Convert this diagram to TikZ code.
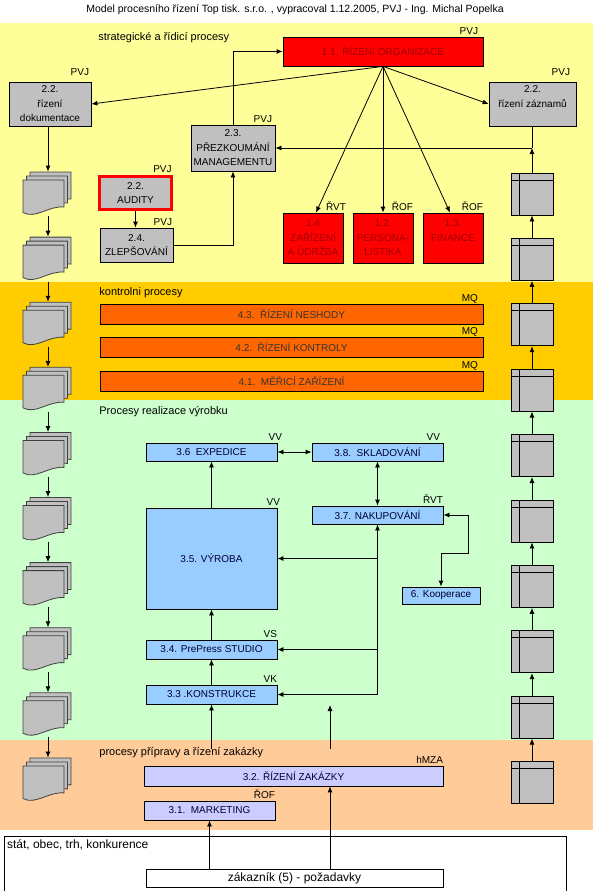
\documentclass[tikz,border=0pt]{standalone}
\usepackage{fontspec}
\setmainfont{Liberation Sans}
\usetikzlibrary{arrows.meta}

\definecolor{bandyellow}{HTML}{FFFF99}
\definecolor{bandgold}{HTML}{FFCC00}
\definecolor{bandgreen}{HTML}{CCFFCC}
\definecolor{bandpeach}{HTML}{FFCC99}
\definecolor{boxgray}{HTML}{C0C0C0}
\definecolor{boxred}{HTML}{FF0000}
\definecolor{textred}{HTML}{A00000}
\definecolor{barorange}{HTML}{FF6600}
\definecolor{boxblue}{HTML}{99CCFF}
\definecolor{boxlila}{HTML}{CCCCFF}
\definecolor{textblue}{HTML}{000033}

\begin{document}
\begin{tikzpicture}[x=1pt,y=-1pt,line width=0.8pt,>={Latex[length=6pt,width=5pt]},
font=\fontsize{10}{14.5}\selectfont,
graybox/.style={draw,fill=boxgray,inner sep=0pt,align=center},
redbox/.style={draw,fill=boxred,text=textred,inner sep=0pt,align=center,minimum width=60,minimum height=50},
ctrlbar/.style={draw,fill=barorange,text=black!80,inner sep=0pt,minimum width=383,minimum height=20},
realbox/.style={draw,fill=boxblue,text=textblue,inner sep=0pt,minimum width=131,minimum height=19},
zakbox/.style={draw,fill=boxlila,text=textblue,inner sep=0pt,minimum height=20},
owner/.style={anchor=base east,inner sep=0pt,yshift=2.5pt},
section/.style={anchor=west,inner sep=0pt,font=\fontsize{11}{13}\selectfont},
recbox/.style={draw,fill=boxgray,inner sep=0pt,minimum width=42,minimum height=42,
  path picture={
    \draw ([xshift=8pt]path picture bounding box.north west) -- ([xshift=8pt]path picture bounding box.south west);
    \draw ([yshift=-7pt]path picture bounding box.north west) -- ([yshift=-7pt]path picture bounding box.north east);}},
docstack/.pic={
  \foreach \k in {2,1,0}
    \draw[fill=boxgray,draw=black!75,shift={({3.5*\k},{-4*\k})}]
      (-20.5,-13.5) -- (20.5,-13.5) -- (20.5,13.5)
      .. controls (5,12) and (-8,26) .. (-20.5,19) -- cycle;
  \node[inner sep=0pt,minimum width=48,minimum height=44] (-n) at (4.5,0.5) {};
}]

\useasboundingbox (0,0) rectangle (593,891);

% bands
\fill[bandyellow] (0,23) rectangle (593,282);
\fill[bandgold] (0,282) rectangle (593,400);
\fill[bandgreen] (0,400) rectangle (593,740);
\fill[bandpeach] (0,740) rectangle (593,830);

\node[font=\fontsize{10.5}{12}\selectfont] (title) at (295,10) {Model procesního řízení Top tisk. s.r.o. , vypracoval 1.12.2005, PVJ - Ing. Michal Popelka};

\node[section] (strat) at (98,38) {strategické a řídicí procesy};
\node[section] (kontr) at (99,293) {kontrolni procesy};
\node[section] (real) at (99,412) {Procesy realizace výrobku};
\node[section] (prip) at (99,753) {procesy přípravy a řízení zakázky};

% okolí
\node[draw,fill=white,inner sep=0pt,minimum width=562,minimum height=57] (env) at (285,864.5) {};
\node[anchor=north west,inner sep=0pt,font=\fontsize{12}{14}\selectfont] (envtxt) at ([xshift=3pt,yshift=-4pt]env.north west) {stát, obec, trh, konkurence};
\node[draw,fill=white,inner sep=0pt,minimum width=297,minimum height=18,font=\fontsize{12}{14}\selectfont] (cust) at (294.5,878) {zákazník (5) - požadavky};

% strategické procesy
\node[draw,fill=boxred,text=textred,inner sep=0pt,minimum width=200,minimum height=29] (org) at (383,51.5) {1.1. ŘÍZENÍ ORGANIZACE};
\node[owner,xshift=-5pt] (org-own) at (org.north east) {PVJ};
\node[graybox,minimum width=82,minimum height=44] (dok) at (50,104) {2.2.\\řízení\\dokumentace};
\node[owner,xshift=-2pt,yshift=4pt] (dok-own) at (dok.north east) {PVJ};
\node[graybox,minimum width=87,minimum height=44] (zaz) at (532.5,104) {2.2.\\řízení záznamů\\~};
\node[owner,xshift=-6pt,yshift=4pt] (zaz-own) at (zaz.north east) {PVJ};
\node[graybox,minimum width=84,minimum height=46] (rev) at (233,148) {2.3.\\PŘEZKOUMÁNÍ\\MANAGEMENTU};
\node[owner,xshift=-3pt] (rev-own) at (rev.north east) {PVJ};
\node[graybox,draw=boxred,line width=3pt,minimum width=72,minimum height=33] (aud) at (135.5,193) {2.2.\\AUDITY};
\node[owner,xshift=-1pt] (aud-own) at (aud.north east) {PVJ};
\node[graybox,minimum width=73,minimum height=34] (zle) at (136.5,245) {2.4.\\ZLEPŠOVÁNÍ};
\node[owner,xshift=-1pt] (zle-own) at (zle.north east) {PVJ};

\node[redbox] (zar) at (313,238) {1.4\\ZAŘÍZENÍ\\A ÚDRŽBA};
\node[owner,xshift=3pt] (zar-own) at (zar.north east) {ŘVT};
\node[redbox] (per) at (383,238) {1.2.\\PERSONA-\\LISTIKA};
\node[owner] (per-own) at (per.north east) {ŘOF};
\node[redbox] (fin) at (453,238) {1.3.\\FINANCE\\~};
\node[owner] (fin-own) at (fin.north east) {ŘOF};

% kontrolní procesy
\node[ctrlbar] (neshody) at (291.5,314) {4.3.~~ŘÍZENÍ NESHODY};
\node[owner,xshift=-5pt] (neshody-own) at (neshody.north east) {MQ};
\node[ctrlbar] (kontrola) at (291.5,347) {4.2.~~ŘÍZENÍ KONTROLY};
\node[owner,xshift=-5pt] (kontrola-own) at (kontrola.north east) {MQ};
\node[ctrlbar] (mereni) at (291.5,381.5) {4.1.~~MĚŘICÍ ZAŘÍZENÍ};
\node[owner,xshift=-5pt] (mereni-own) at (mereni.north east) {MQ};

% realizace
\node[realbox,minimum height=18] (exp) at (211.5,452) {3.6~~EXPEDICE};
\node[owner,xshift=5pt] (exp-own) at (exp.north east) {VV};
\node[realbox,minimum height=18] (skl) at (377.5,452) {3.8.~~SKLADOVÁNÍ};
\node[owner,xshift=-3pt] (skl-own) at (skl.north east) {VV};
\node[realbox,minimum height=18] (nak) at (377.5,515) {3.7. NAKUPOVÁNÍ};
\node[owner] (nak-own) at (nak.north east) {ŘVT};
\node[realbox,minimum height=101] (vyr) at (211.5,558.5) {3.5. VÝROBA};
\node[owner,xshift=3pt] (vyr-own) at (vyr.north east) {VV};
\node[realbox,minimum width=78,minimum height=17] (koop) at (441,595.5) {6. Kooperace};
\node[realbox] (pre) at (211.5,649.5) {3.4. PrePress STUDIO};
\node[owner] (pre-own) at (pre.north east) {VS};
\node[realbox] (konstr) at (211.5,694.5) {3.3 .KONSTRUKCE};
\node[owner] (konstr-own) at (konstr.north east) {VK};

% zakázky
\node[zakbox,minimum width=299] (zak) at (293.5,776) {3.2. ŘÍZENÍ ZAKÁZKY};
\node[owner] (zak-own) at (zak.north east) {hMZA};
\node[zakbox,minimum width=131,minimum height=19] (mkt) at (209.5,810.5) {3.1.~~MARKETING};
\node[owner] (mkt-own) at (mkt.north east) {ŘOF};

% dokumenty a záznamy
\foreach \i in {1,...,10} {
  \pic (doc\i) at (43.5,{193.5+65.1*(\i-1)}) {docstack};
  \node[recbox] (rec\i) at (532,{194+65.4*(\i-1)}) {};
}
\foreach \i [evaluate=\i as \j using int(\i+1)] in {1,...,9} {
  \draw[->] (doc\i-n.south) -- (doc\j-n.north);
  \draw[->] (rec\j.north) -- (rec\i.south);
}

% spoje
\draw[->] (org.south) -- (dok.east);
\draw[->] (org.south) -- (zaz.west);
\draw[->] (org.south) -- ([xshift=3pt]zar.north);
\draw[->] (org.south) -- (per.north);
\draw[->] (org.south) -- ([xshift=-3pt]fin.north);
\draw[->] (rev.north) |- (org.west);
\draw[->] (aud.south) -- (aud.south |- zle.north);
\draw[->] (zle.east) -| (rev.south);
\draw[->] (doc1-n.north |- dok.south) -- (doc1-n.north);
\coordinate (recjoin) at (rec1.north |- rev.east);
\draw[->] (rec1.north) -- (recjoin);
\draw (recjoin) -- (recjoin |- zaz.south);
\draw[->] (recjoin) -- (rev.east);

\draw[<->] (exp.east) -- (skl.west);
\draw[<->] (skl.south) -- (nak.north);
\draw[->] (vyr.north) -- (exp.south);
\draw[<->] (nak.east) -- ++(25,0) -- ++(0,38) -| (koop.north);
\draw[->] (pre.north) -- (vyr.south);
\draw[->] (konstr.north) -- (pre.south);
\coordinate (bus) at (nak.south |- konstr.east);
\draw[->] (bus) -- (nak.south);
\draw[->] (bus) -- (konstr.east);
\draw[->] (nak.south |- pre.east) -- (pre.east);
\draw[->] (nak.south |- vyr.east) -- (vyr.east);
\coordinate (prepfoot) at (211.5,749);
\coordinate (freefoot) at (330,749);
\coordinate (freetip) at (330,705);
\draw[->] (prepfoot) -- (konstr.south);
\draw[->] (freefoot) -- (freetip);

\draw[->] (mkt.south |- cust.north) -- (mkt.south);
\draw[->] (freefoot |- cust.north) -- (freefoot |- zak.south);

\end{tikzpicture}
\end{document}
